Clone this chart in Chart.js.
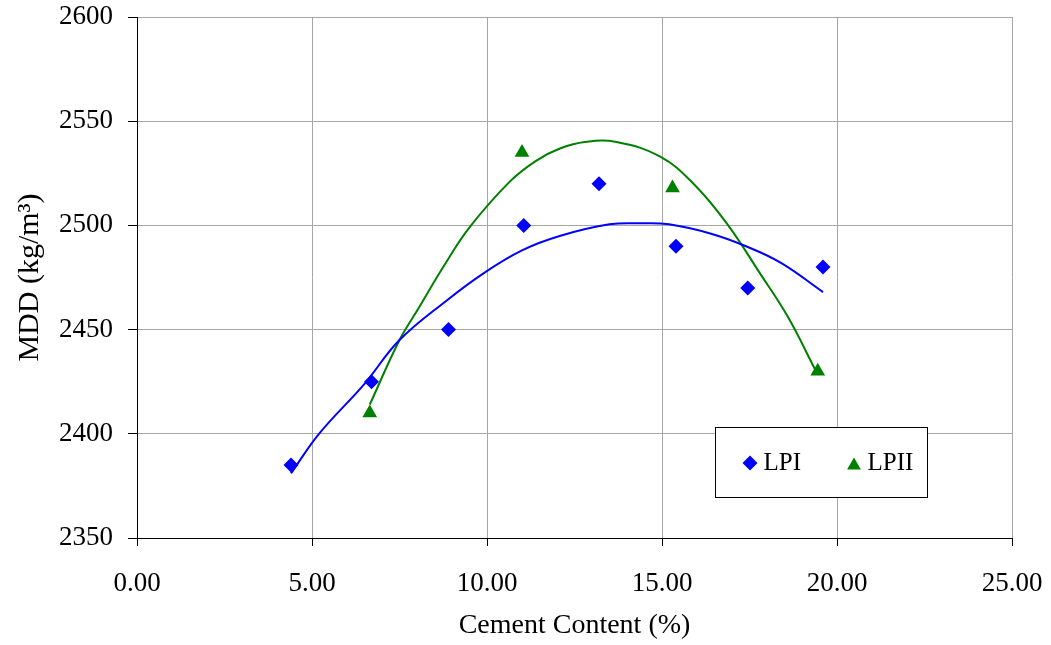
<!DOCTYPE html>
<html>
<head>
<meta charset="utf-8">
<title>MDD x Cement Content</title>
<script src="https://cdn.jsdelivr.net/npm/chart.js@4.4.1/dist/chart.umd.min.js"></script>
<style>
    body { margin: 0; background: #fff; }
    #box { width: 1051px; height: 645px; }
</style>
</head>
<body>
<div id="box"><canvas id="chartMdd" width="1051" height="645"></canvas></div>
<script>
// measured points
const cementLPI = [4.4, 6.7, 8.9, 11.05, 13.2, 15.4, 17.45, 19.6];
const mddLPI = [2385, 2425, 2450, 2500, 2520, 2490, 2470, 2480];

const cementLPII = [6.65, 11.0, 15.3, 19.45];
const mddLPII = [2410, 2535, 2518, 2430];

// 2nd order trend curves, sampled along the fitted line
const trendXLPI = [4.4, 5.2, 6.5, 7.5, 8.85, 9.9, 11.0, 12.1, 13.5, 14.4, 15.2, 16.4, 17.4, 18.4, 19.6];
const trendYLPI = [2381, 2400, 2424, 2445, 2464, 2477, 2488, 2495, 2500.5, 2501, 2500.5, 2496, 2490, 2482, 2468];

const trendXLPII = [6.65, 7.5, 8.0, 8.75, 9.5, 10.65, 11.4, 12.1, 12.8, 13.7, 14.95, 15.9, 16.85, 17.8, 18.6, 19.4];
const trendYLPII = [2414, 2445, 2459, 2480, 2499, 2521, 2531, 2537, 2540, 2540, 2533, 2520, 2501, 2477, 2456, 2430];

const xTicks = [0, 5, 10, 15, 20, 25];
const yTicks = [2350, 2400, 2450, 2500, 2550, 2600];

const serie = ['LPI', 'LPII'];
const corAzul = '#0000ff';
const corVerde = '#008000';
const fonte = '"Liberation Serif", "Times New Roman", serif';

function pares(xs, ys) {
    return xs.map((x, i) => ({ x: x, y: ys[i] }));
}

// legend drawn as a framed box inside the plot
const legendaBox = {
    id: 'legendaBox',
    afterDraw(chart) {
        const ctx = chart.ctx;
        const area = chart.chartArea;
        const bx = area.left + 578.5;
        const by = area.top + 410.5;
        ctx.save();
        ctx.fillStyle = '#fff';
        ctx.strokeStyle = '#000';
        ctx.lineWidth = 1;
        ctx.fillRect(bx, by, 212, 70);
        ctx.strokeRect(bx, by, 212, 70);

        ctx.font = '25px ' + fonte;
        ctx.textBaseline = 'middle';
        ctx.textAlign = 'left';

        ctx.fillStyle = corAzul;
        ctx.strokeStyle = corAzul;
        Chart.helpers.drawPoint(ctx, { pointStyle: 'rectRot', radius: 7.5, borderWidth: 0 }, bx + 34.5, by + 35.5);
        ctx.fillStyle = '#000';
        ctx.fillText(serie[0], bx + 48, by + 36);

        ctx.fillStyle = corVerde;
        ctx.strokeStyle = corVerde;
        Chart.helpers.drawPoint(ctx, { pointStyle: 'triangle', radius: 8, borderWidth: 0 }, bx + 138.5, by + 38);
        ctx.fillStyle = '#000';
        ctx.fillText(serie[1], bx + 152, by + 36);
        ctx.restore();
    }
};

function carregarGrafico() {
    const ctx = document.getElementById('chartMdd');

    new Chart(ctx, {
        type: 'scatter',
        data: {
            datasets: [
                {
                    label: serie[0],
                    data: pares(cementLPI, mddLPI),
                    pointStyle: 'rectRot',
                    pointRadius: 7.5,
                    pointBorderWidth: 0,
                    backgroundColor: corAzul,
                    borderColor: corAzul
                },
                {
                    label: serie[1],
                    data: pares(cementLPII, mddLPII),
                    pointStyle: 'triangle',
                    pointRadius: 8.5,
                    pointBorderWidth: 0,
                    backgroundColor: corVerde,
                    borderColor: corVerde
                },
                {
                    label: 'Poly. (' + serie[0] + ')',
                    data: pares(trendXLPI, trendYLPI),
                    showLine: true,
                    pointRadius: 0,
                    borderColor: corAzul,
                    borderWidth: 2,
                    tension: 0.4
                },
                {
                    label: 'Poly. (' + serie[1] + ')',
                    data: pares(trendXLPII, trendYLPII),
                    showLine: true,
                    pointRadius: 0,
                    borderColor: corVerde,
                    borderWidth: 2,
                    tension: 0.4
                }
            ]
        },
        options: {
            responsive: false,
            animation: false,
            layout: {
                padding: { top: 17, right: 39, left: 0, bottom: 0 }
            },
            plugins: {
                legend: { display: false },
                tooltip: { enabled: false }
            },
            scales: {
                x: {
                    type: 'linear',
                    min: xTicks[0],
                    max: xTicks[xTicks.length - 1],
                    afterBuildTicks: (scale) => { scale.ticks = xTicks.map(v => ({ value: v })); },
                    afterFit: (scale) => {
                        scale.height = 107;
                        scale.paddingLeft = 0;
                        scale.paddingRight = 0;
                    },
                    ticks: {
                        color: '#000',
                        padding: 22,
                        maxRotation: 0,
                        font: { family: fonte, size: 27 },
                        callback: (v) => Number(v).toFixed(2)
                    },
                    grid: {
                        color: '#a6a6a6',
                        tickColor: '#000',
                        tickLength: 8
                    },
                    border: { color: '#000', width: 1 },
                    title: {
                        display: true,
                        text: 'Cement Content (%)',
                        color: '#000',
                        font: { family: fonte, size: 28 },
                        padding: { top: 0, bottom: 3 }
                    }
                },
                y: {
                    type: 'linear',
                    min: yTicks[0],
                    max: yTicks[yTicks.length - 1],
                    afterBuildTicks: (scale) => { scale.ticks = yTicks.map(v => ({ value: v })); },
                    afterFit: (scale) => {
                        scale.width = 137;
                        scale.paddingTop = 0;
                        scale.paddingBottom = 0;
                    },
                    ticks: {
                        color: '#000',
                        padding: 15,
                        font: { family: fonte, size: 27 },
                        callback: (v) => String(v)
                    },
                    grid: {
                        color: '#a6a6a6',
                        tickColor: '#000',
                        tickLength: 9
                    },
                    border: { color: '#000', width: 1 },
                    title: {
                        display: true,
                        text: 'MDD (kg/m³)',
                        color: '#000',
                        font: { family: fonte, size: 30 },
                        padding: { top: 12, bottom: 0 }
                    }
                }
            }
        },
        plugins: [legendaBox]
    });
}

carregarGrafico();
</script>
</body>
</html>
